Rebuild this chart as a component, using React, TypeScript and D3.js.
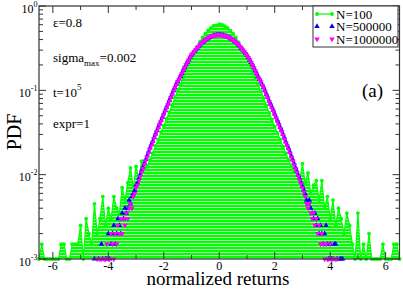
import React from 'react';
import * as d3 from 'd3';

// bin centres of the histograms (normalized returns)
const binStartLarge = -4.5;
const binStepLarge = 0.05;
const binStartSmall = -6.5;
const binStepSmall = 0.1;

// N=100 (green), bins -6.5 .. 6.5 step 0.1
const pdfN100: (number | null)[] = [
  1e-3, 1.5e-3, 1e-3, 1e-3, 1e-3, 1e-3, 1e-3, 1e-3, 1.5e-3, 1.5e-3,
  1e-3, 1e-3, 1.5e-3, 1.5e-3, 1.5e-3, 2.5e-3, 1e-3, 3e-3, 2e-3, 1.5e-3,
  4.5e-3, 2e-3, 3e-3, 5.5e-3, 2.5e-3, 4e-3, 3e-3, 5.5e-3, 4e-3, 3.5e-3,
  7e-3, 5e-3,
  8e-3, 0.012, 7e-3, 0.0125, 9e-3, 0.0145, 0.0115, 0.0125, 0.015, 0.018,
  0.022, 0.026, 0.032, 0.038, 0.046, 0.055, 0.067, 0.082, 0.099, 0.118,
  0.143, 0.172, 0.205, 0.24, 0.28, 0.325, 0.375, 0.425, 0.47, 0.515,
  0.55, 0.585, 0.59,
  0.61,
  0.6, 0.575, 0.55, 0.51, 0.47, 0.42, 0.37, 0.32, 0.275, 0.238,
  0.203, 0.17, 0.142, 0.117, 0.098, 0.081, 0.066, 0.054, 0.045, 0.037,
  0.031, 0.026, 0.0215, 0.018, 0.015, 0.0125, 0.011, 0.0105, 0.0085, 0.0135,
  0.008, 0.0105, 6e-3, 7.5e-3, 8.5e-3, 5e-3, 8.5e-3, 4e-3, 5.5e-3, 3e-3,
  5e-3, 2.5e-3, 4e-3, 3e-3, 2e-3, 3.5e-3, 2.5e-3, 1.5e-3, 1e-3, 3.5e-3,
  1e-3, 1.5e-3, 1e-3, 2e-3, 1e-3, 1e-3, 1e-3, 1e-3, 1.5e-3, 1e-3,
  1e-3, 1e-3, 1.5e-3, 1.5e-3, 1e-3,
];

// N=500000 (blue), bins -4.5 .. 4.5 step 0.05
const pdfN500000: (number | null)[] = [
  1e-3, null, null, 1e-3, null, 1.5e-3, 1e-3, null, 1e-3, 1e-3,
  2e-3, 1e-3, 1.5e-3, 2e-3, 2.5e-3, 1.5e-3, 2e-3, 3e-3, 2.5e-3, 2e-3,
  3.5e-3, 3e-3, 4e-3, 3.5e-3, 4e-3,
  5e-3, 4.5e-3, 5.5e-3, 6e-3, 6.5e-3, 7.5e-3, 8e-3, 9e-3, 0.0101, 0.0112,
  0.0124, 0.0137, 0.0152, 0.0168, 0.0186, 0.0207, 0.0228, 0.0249, 0.0276, 0.0305,
  0.0334, 0.0366, 0.0401, 0.044, 0.0482, 0.0528, 0.0578, 0.0632, 0.069, 0.0758,
  0.083, 0.0905, 0.099, 0.108, 0.118, 0.128, 0.137, 0.147, 0.159, 0.172,
  0.187, 0.201, 0.216, 0.231, 0.247, 0.263, 0.276, 0.289, 0.302, 0.316,
  0.33, 0.345, 0.358, 0.37, 0.383, 0.395, 0.405, 0.414, 0.424, 0.433,
  0.439, 0.444, 0.448, 0.451, 0.453,
  0.455,
  0.454, 0.451, 0.447, 0.443, 0.438, 0.431, 0.423, 0.413, 0.404, 0.394,
  0.382, 0.37, 0.357, 0.344, 0.33, 0.315, 0.301, 0.288, 0.275, 0.262,
  0.246, 0.23, 0.215, 0.2, 0.186, 0.171, 0.158, 0.146, 0.136, 0.127,
  0.117, 0.108, 0.099, 0.09, 0.083, 0.075, 0.069, 0.063, 0.058, 0.0525,
  0.048, 0.0437, 0.0402, 0.0364, 0.0334, 0.0302, 0.0274, 0.0247, 0.0226, 0.0206,
  0.0186, 0.0167, 0.0151, 0.0136, 0.0122, 0.0111, 0.0099, 0.009, 0.0081, 0.0073,
  0.0066, 0.0059, 5e-3, 4.5e-3, 5e-3, 4e-3, 3.5e-3, 3e-3, 3.5e-3, 2.5e-3,
  3e-3, 2e-3, 2.5e-3, 2e-3, 1.5e-3, 2e-3, 2.5e-3, 1.5e-3, 1e-3, 1.5e-3,
  1e-3, 1e-3, 1.5e-3, 1.5e-3, 1e-3, null, 1e-3, 1e-3, 1e-3, null,
];

// N=1000000 (magenta), bins -4.5 .. 4.5 step 0.05
const pdfN1000000: (number | null)[] = [
  null, null, 1e-3, null, 1e-3, 1e-3, null, 1e-3, 1e-3, 1.5e-3,
  1e-3, 1e-3, 2e-3, 1.5e-3, 1e-3, 2e-3, 1.5e-3, 2.5e-3, 2e-3, 3e-3,
  2e-3, 3e-3, 2.5e-3, 3.5e-3, 3e-3,
  4e-3, 4.5e-3, 4e-3, 5.5e-3, 6e-3, 7e-3, 7.5e-3, 8.5e-3, 9.5e-3, 0.0107,
  0.0118, 0.0132, 0.0146, 0.0162, 0.018, 0.02, 0.022, 0.024, 0.0268, 0.0295,
  0.0325, 0.0355, 0.0392, 0.0427, 0.047, 0.0513, 0.0565, 0.0617, 0.0675, 0.074,
  0.0815, 0.089, 0.098, 0.107, 0.116, 0.126, 0.135, 0.145, 0.157, 0.17,
  0.185, 0.2, 0.214, 0.229, 0.246, 0.263, 0.275, 0.288, 0.302, 0.316,
  0.331, 0.347, 0.36, 0.372, 0.385, 0.398, 0.408, 0.417, 0.427, 0.437,
  0.442, 0.447, 0.45, 0.452, 0.455,
  0.457,
  0.453, 0.45, 0.449, 0.444, 0.44, 0.433, 0.425, 0.414, 0.406, 0.395,
  0.383, 0.37, 0.358, 0.344, 0.33, 0.314, 0.3, 0.286, 0.273, 0.26,
  0.244, 0.228, 0.213, 0.198, 0.184, 0.169, 0.156, 0.144, 0.134, 0.125,
  0.115, 0.106, 0.097, 0.088, 0.081, 0.073, 0.067, 0.061, 0.056, 0.0508,
  0.0466, 0.0423, 0.039, 0.0352, 0.0323, 0.0292, 0.0265, 0.0238, 0.0218, 0.0198,
  0.0179, 0.016, 0.0145, 0.0131, 0.0117, 0.0106, 0.0095, 0.0086, 0.0078, 0.007,
  0.0062, 0.0055, 4.5e-3, 4e-3, 4.5e-3, 3.5e-3, 3e-3, 3.5e-3, 2.5e-3, 3e-3,
  2e-3, 2.5e-3, 1.5e-3, 2e-3, 1.5e-3, 1e-3, 1.5e-3, 1e-3, 1e-3, 1.5e-3,
  1e-3, 1e-3, null, 1e-3, 1e-3, null, null, null, null, null,
];

const xMajorTicks = [-6, -4, -2, 0, 2, 4, 6];
const xMinorTicks = [-5, -3, -1, 1, 3, 5];
const yDecadeExponents = [0, -1, -2, -3];
const yMinorMultipliers = [2, 3, 4, 5, 6, 7, 8, 9];
const legendLabels = ['N=100', 'N=500000', 'N=1000000'];

type Pt = { x: number; v: number | null };

export default function App() {
  const W = 403, H = 289;
  const left = 39, right = 399.5, top = 6, bottom = 259;
  const font = '"Liberation Serif", "Times New Roman", serif';
  const axisColor = '#333';

  const x = d3.scaleLinear().domain([-6.5, 6.5]).range([left, right]);
  const y = d3.scaleLog().domain([1e-3, 1]).range([bottom, top]);

  const green: Pt[] = pdfN100.map((v, i) => ({ x: binStartSmall + i * binStepSmall, v }));
  const blue: Pt[] = pdfN500000.map((v, i) => ({ x: binStartLarge + i * binStepLarge, v }));
  const magenta: Pt[] = pdfN1000000.map((v, i) => ({ x: binStartLarge + i * binStepLarge, v }));

  const def = (d: Pt) => d.v != null && d.v > 0;
  const line = d3.line<Pt>().defined(def).x(d => x(d.x)).y(d => y(d.v as number));
  const area = d3.area<Pt>().defined(def).x(d => x(d.x)).y0(bottom).y1(d => y(d.v as number));

  const tri = d3.symbol().type(d3.symbolTriangle).size(13)() as string;

  const greenC = '#00ff00';
  const blueC = '#0000ff';
  const magC = '#ff00ff';

  return (
    <svg width={W} height={H} style={{ position: 'absolute', left: 0, top: 0, background: '#fff' }}
      fontFamily={font}>
      <defs>
        <pattern id="stripes" width="4" height="3" patternUnits="userSpaceOnUse">
          <rect width="4" height="3" fill={greenC} />
          <rect width="4" height="1" y="0" fill="#b2f6b2" />
        </pattern>
        <clipPath id="plotClip">
          <rect x={left} y={top} width={right - left} height={bottom - top} />
        </clipPath>
      </defs>
      <rect x={0} y={0} width={W} height={H} fill="#fff" />

      {/* N=100 : area, drop lines, line, markers */}
      <g clipPath="url(#plotClip)">
        <path d={area(green) || ''} fill="url(#stripes)" />
        {green.filter(def).map((d, i) => (
          <line key={i} x1={x(d.x)} x2={x(d.x)} y1={y(d.v as number)} y2={bottom} stroke="url(#stripes)" strokeWidth={1.2} />
        ))}
        <path d={line(green) || ''} fill="none" stroke={greenC} strokeWidth={1.2} />
      </g>
      {green.filter(def).map((d, i) => (
        <circle key={i} cx={x(d.x)} cy={y(d.v as number)} r={1.9} fill={greenC} />
      ))}

      {/* N=500000 */}
      {blue.filter(def).map((d, i) => (
        <path key={i} d={tri} transform={`translate(${x(d.x)},${y(d.v as number)})`} fill={blueC} />
      ))}
      {/* N=1000000 */}
      {magenta.filter(def).map((d, i) => (
        <path key={i} d={tri} transform={`translate(${x(d.x)},${y(d.v as number)}) rotate(180)`} fill={magC} />
      ))}

      {/* frame */}
      <rect x={left} y={top} width={right - left} height={bottom - top} fill="none" stroke={axisColor} strokeWidth={1.2} />

      {/* x ticks */}
      {xMajorTicks.map(t => (
        <g key={'xm' + t}>
          <line x1={x(t)} x2={x(t)} y1={bottom} y2={bottom - 7} stroke={axisColor} />
          <line x1={x(t)} x2={x(t)} y1={top} y2={top + 7} stroke={axisColor} />
          <text x={x(t)} y={270} fontSize={12} textAnchor="middle" fill="#000">{t}</text>
        </g>
      ))}
      {xMinorTicks.map(t => (
        <g key={'xn' + t}>
          <line x1={x(t)} x2={x(t)} y1={bottom} y2={bottom - 4} stroke={axisColor} />
          <line x1={x(t)} x2={x(t)} y1={top} y2={top + 4} stroke={axisColor} />
        </g>
      ))}

      {/* y ticks */}
      {yDecadeExponents.map(e => {
        const yy = y(Math.pow(10, e));
        return (
          <g key={'yd' + e}>
            <line x1={left} x2={left + 7} y1={yy} y2={yy} stroke={axisColor} />
            <line x1={right} x2={right - 7} y1={yy} y2={yy} stroke={axisColor} />
            <text x={37.5} y={yy + 6.5} fontSize={12} textAnchor="end" fill="#000">
              <tspan>10</tspan>
              <tspan dy={-6} fontSize={8}>{e}</tspan>
            </text>
          </g>
        );
      })}
      {yDecadeExponents.filter(e => e < 0).map(e =>
        yMinorMultipliers.map(m => {
          const yy = y(m * Math.pow(10, e));
          return (
            <g key={'ym' + e + '_' + m}>
              <line x1={left} x2={left + 4} y1={yy} y2={yy} stroke={axisColor} />
              <line x1={right} x2={right - 4} y1={yy} y2={yy} stroke={axisColor} />
            </g>
          );
        })
      )}

      {/* axis labels */}
      <text x={218} y={285} fontSize={19} textAnchor="middle" fill="#000">normalized returns</text>
      <text transform="translate(21,132) rotate(-90)" fontSize={20} textAnchor="middle" fill="#000">PDF</text>

      {/* annotations */}
      <text x={53} y={27} fontSize={13} fill="#000">ε=0.8</text>
      <text x={53} y={62} fontSize={13} fill="#000">
        <tspan>sigma</tspan>
        <tspan dy={4} fontSize={9}>max</tspan>
        <tspan dy={-4}>=0.002</tspan>
      </text>
      <text x={53} y={97} fontSize={13} fill="#000">
        <tspan>t=10</tspan>
        <tspan dy={-7} fontSize={9}>5</tspan>
      </text>
      <text x={53} y={128} fontSize={13} fill="#000">expr=1</text>
      <text x={362} y={97} fontSize={19} fill="#000">(a)</text>

      {/* legend */}
      <rect x={313} y={top} width={85} height={41} fill="#fff" stroke={axisColor} strokeWidth={1} />
      {legendLabels.map((lab, i) => {
        const ly = 14 + i * 12.5;
        return (
          <g key={lab}>
            {i === 0 && (
              <>
                <line x1={317} x2={332} y1={ly} y2={ly} stroke={greenC} strokeWidth={1.2} />
                <circle cx={317} cy={ly} r={1.9} fill={greenC} />
                <circle cx={332} cy={ly} r={1.9} fill={greenC} />
              </>
            )}
            {i === 1 && (
              <>
                <path d={tri} transform={`translate(317,${ly})`} fill={blueC} />
                <path d={tri} transform={`translate(332,${ly})`} fill={blueC} />
              </>
            )}
            {i === 2 && (
              <>
                <path d={tri} transform={`translate(317,${ly}) rotate(180)`} fill={magC} />
                <path d={tri} transform={`translate(332,${ly}) rotate(180)`} fill={magC} />
              </>
            )}
            <text x={336} y={ly + 4.5} fontSize={13} fill="#000">{lab}</text>
          </g>
        );
      })}
    </svg>
  );
}
